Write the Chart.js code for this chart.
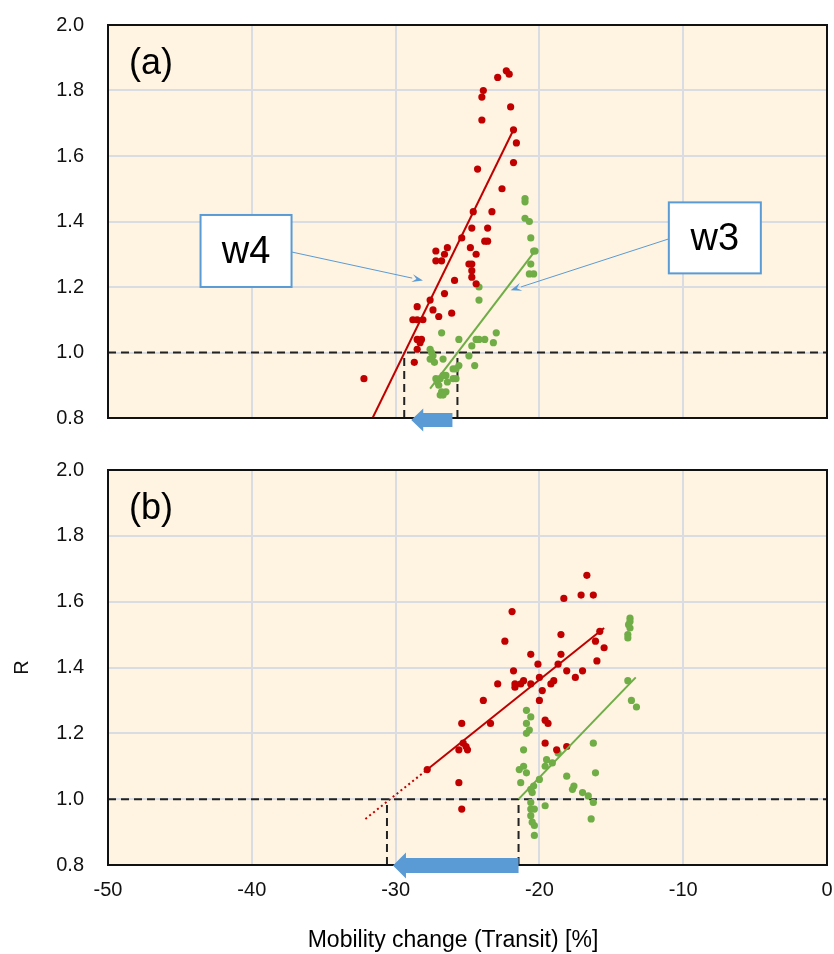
<!DOCTYPE html>
<html>
<head>
<meta charset="utf-8">
<script src="https://cdn.jsdelivr.net/npm/chart.js@4.4.0/dist/chart.umd.min.js"></script>
<style>
  body { margin: 0; background: #fff; }
  #wrap { position: relative; width: 834px; height: 954px; }
  canvas { position: absolute; left: 0; }
  #chartA { top: 0; }
  #chartB { top: 440px; }
</style>
</head>
<body>
<div id="wrap">
  <canvas id="chartA" width="834" height="440" style="width:834px;height:440px"></canvas>
  <canvas id="chartB" width="834" height="514" style="width:834px;height:514px"></canvas>
</div>
<script>
// ticks
const xTicks = [-50, -40, -30, -20, -10, 0];
const yTicks = [0.8, 1.0, 1.2, 1.4, 1.6, 1.8, 2.0];

// panel (a): 4th wave (red) and 3rd wave (green)
const w4A_x = [-22.3, -22.1, -22.9, -23.9, -24.0, -22.0, -24.0, -21.8, -21.6, -21.8, -24.3, -22.6, -24.6, -23.3, -24.7, -23.6,
  -25.4, -23.8, -23.6, -26.4, -27.2, -26.6, -24.8, -24.4, -27.2, -26.8, -24.9, -24.7, -24.7, -24.7, -25.9, -24.4, -26.6,
  -27.6, -27.4, -28.5, -27.0, -26.1, -28.8, -28.5, -28.1, -28.5, -28.2, -28.3, -28.5, -28.7, -32.2];
const w4A_R = [1.86, 1.85, 1.84, 1.80, 1.78, 1.75, 1.71, 1.68, 1.64, 1.58, 1.56, 1.50, 1.43, 1.43, 1.38, 1.38,
  1.35, 1.34, 1.34, 1.32, 1.31, 1.30, 1.32, 1.30, 1.28, 1.28, 1.27, 1.27, 1.25, 1.23, 1.22, 1.21, 1.18,
  1.16, 1.13, 1.14, 1.11, 1.12, 1.10, 1.10, 1.10, 1.04, 1.04, 1.03, 1.01, 0.97, 0.92];
const w3A_x = [-21.0, -21.0, -21.0, -20.7, -20.6, -20.4, -20.3, -20.6, -20.7, -20.4, -24.2, -24.2, -26.8, -23.0, -25.6, -24.4,
  -24.2, -23.8, -23.2, -24.7, -27.6, -27.5, -27.4, -26.7, -27.6, -27.3, -24.9, -24.5, -25.6, -25.8, -26.0, -26.5, -26.9,
  -27.2, -26.7, -26.4, -26.0, -25.8, -27.1, -27.0, -26.8, -26.5, -26.7, -26.9];
const w3A_R = [1.47, 1.46, 1.41, 1.40, 1.35, 1.31, 1.31, 1.27, 1.24, 1.24, 1.20, 1.16, 1.06, 1.06, 1.04, 1.04,
  1.04, 1.04, 1.03, 1.02, 1.01, 1.00, 0.99, 0.98, 0.98, 0.97, 0.99, 0.96, 0.96, 0.95, 0.95, 0.93, 0.92,
  0.92, 0.93, 0.91, 0.92, 0.92, 0.91, 0.90, 0.88, 0.88, 0.87, 0.87];
const fitW4A_x = [-31.6, -21.8], fitW4A_R = [0.80, 1.68];
const fitW3A_x = [-27.6, -20.3], fitW3A_R = [0.89, 1.31];
const crossA = [-29.4, -25.7];

// panel (b)
const w4B_x = [-25.4, -25.6, -25.3, -25.1, -25.0, -25.6, -25.4, -27.8, -16.7, -17.1, -16.25, -18.3, -21.9, -15.8, -18.5, -16.1,
  -22.4, -15.5, -20.6, -18.5, -20.1, -16.0, -18.7, -21.8, -18.1, -17.0, -17.5, -20.0, -22.9, -21.7, -21.7, -21.3, -21.1,
  -20.6, -19.2, -19.0, -19.8, -23.9, -20.0, -23.4, -19.6, -19.4, -19.6, -18.8, -18.1];
const w4B_R = [1.23, 1.15, 1.17, 1.16, 1.15, 1.05, 0.97, 1.09, 1.68, 1.62, 1.62, 1.61, 1.57, 1.51, 1.50, 1.48,
  1.48, 1.46, 1.44, 1.44, 1.41, 1.42, 1.41, 1.39, 1.39, 1.39, 1.37, 1.37, 1.35, 1.35, 1.34, 1.35, 1.36,
  1.35, 1.35, 1.36, 1.33, 1.30, 1.30, 1.23, 1.24, 1.23, 1.17, 1.15, 1.16];
const w3B_x = [-13.7, -13.7, -13.8, -13.7, -13.85, -13.85, -13.85, -13.6, -13.25, -20.9, -20.6, -20.9, -20.7, -20.9, -21.1,
  -16.25, -21.1, -21.4, -20.9, -19.5, -19.1, -19.6, -18.7, -16.1, -18.1, -21.3, -20.0, -20.4, -20.6, -20.5, -17.6, -17.7,
  -17.0, -16.6, -16.25, -20.6, -20.6, -20.35, -20.6, -20.5, -20.35, -20.35, -19.6, -16.4];
const w3B_R = [1.55, 1.54, 1.53, 1.52, 1.50, 1.49, 1.36, 1.30, 1.28, 1.27, 1.25, 1.23, 1.21, 1.20, 1.15,
  1.17, 1.10, 1.09, 1.08, 1.12, 1.11, 1.10, 1.14, 1.08, 1.07, 1.05, 1.06, 1.04, 1.03, 1.02, 1.04, 1.03,
  1.02, 1.01, 0.99, 0.99, 0.97, 0.97, 0.95, 0.93, 0.92, 0.89, 0.98, 0.94];
const fitW4B_x = [-27.8, -15.5], fitW4B_R = [1.09, 1.52];
const extW4B_x = [-32.1, -27.8], extW4B_R = [0.94, 1.09];
const fitW3B_x = [-21.45, -13.3], fitW3B_R = [1.00, 1.37];
const crossB = [-30.6, -21.45];

const RED = '#C00000', GREEN = '#70AD47', BLUE = '#5B9BD5';
const FONT = '"Liberation Sans", Arial, sans-serif';
Chart.defaults.font.family = FONT;
Chart.defaults.color = '#111';

function pts(xs, ys) { return xs.map((v, i) => ({ x: v, y: ys[i] })); }

function dots(xs, ys, color) {
  return { data: pts(xs, ys), backgroundColor: color, borderWidth: 0, pointRadius: 3.6, showLine: false, order: 1 };
}
function line(xs, ys, color, dash, order) {
  return { data: pts(xs, ys), borderColor: color, borderWidth: 2, borderDash: dash || [], pointRadius: 0,
    showLine: true, fill: false, order: order === undefined ? 0 : order };
}
function refLines(cross) {
  const d = [8, 5];
  return [
    line([-50, 0], [1, 1], '#222', d, 2),
    line([cross[0], cross[0]], [0.8, 1], '#222', d, 2),
    line([cross[1], cross[1]], [0.8, 1], '#222', d, 2)
  ];
}

function blockArrow(ctx, xTail, xTip, yc, body, head, headLen) {
  ctx.fillStyle = BLUE;
  ctx.beginPath();
  ctx.moveTo(xTail, yc - body / 2);
  ctx.lineTo(xTip + headLen, yc - body / 2);
  ctx.lineTo(xTip + headLen, yc - head / 2);
  ctx.lineTo(xTip, yc);
  ctx.lineTo(xTip + headLen, yc + head / 2);
  ctx.lineTo(xTip + headLen, yc + body / 2);
  ctx.lineTo(xTail, yc + body / 2);
  ctx.closePath();
  ctx.fill();
}

const annotate = {
  id: 'annotate',
  afterDatasetsDraw(chart, args, opts) {
    const { ctx, chartArea: a, scales: { x, y } } = chart;
    ctx.save();
    // plot frame
    ctx.strokeStyle = '#111';
    ctx.lineWidth = 2;
    ctx.strokeRect(a.left, a.top, a.right - a.left, a.bottom - a.top);
    // panel label
    ctx.fillStyle = '#000';
    ctx.font = '36px ' + FONT;
    ctx.textAlign = 'center';
    ctx.textBaseline = 'middle';
    ctx.fillText(opts.panel, a.left + 43, a.top + 39);
    // shift arrow between the two crossings
    blockArrow(ctx, x.getPixelForValue(opts.cross[1]) - opts.inset[1], x.getPixelForValue(opts.cross[0]) + opts.inset[0],
      a.bottom + opts.arrowDy, opts.body, opts.head, opts.headLen);
    // callouts
    (opts.callouts || []).forEach(c => {
      const cx = x.getPixelForValue(c.at[0]), cy = y.getPixelForValue(c.at[1]);
      const tx = x.getPixelForValue(c.tip[0]), ty = y.getPixelForValue(c.tip[1]);
      const sx = c.side === 'right' ? cx + c.w / 2 : cx - c.w / 2;
      const sy = cy + 1;
      ctx.strokeStyle = BLUE;
      ctx.lineWidth = 1;
      const ang = Math.atan2(ty - sy, tx - sx);
      const hl = 11, hw = 4;
      const bx = tx - hl * Math.cos(ang), by = ty - hl * Math.sin(ang);
      ctx.beginPath();
      ctx.moveTo(sx, sy);
      ctx.lineTo(bx, by);
      ctx.stroke();
      ctx.fillStyle = BLUE;
      ctx.beginPath();
      ctx.moveTo(tx, ty);
      ctx.lineTo(bx - hw * Math.sin(ang), by + hw * Math.cos(ang));
      ctx.lineTo(tx - 0.6 * hl * Math.cos(ang), ty - 0.6 * hl * Math.sin(ang));
      ctx.lineTo(bx + hw * Math.sin(ang), by - hw * Math.cos(ang));
      ctx.closePath();
      ctx.fill();
      ctx.fillStyle = '#fff';
      ctx.fillRect(cx - c.w / 2, cy - c.h / 2, c.w, c.h);
      ctx.strokeStyle = BLUE;
      ctx.lineWidth = 2;
      ctx.strokeRect(cx - c.w / 2, cy - c.h / 2, c.w, c.h);
      ctx.fillStyle = '#000';
      ctx.font = '38px ' + FONT;
      ctx.fillText(c.text, cx, cy + 2);
    });
    if (opts.xTitle) {
      ctx.font = '23px ' + FONT;
      ctx.fillStyle = '#000';
      ctx.fillText(opts.xTitle, 453, 501);
    }
    ctx.restore();
  }
};

function makeChart(id, datasets, showX, pad, annot) {
  return new Chart(document.getElementById(id), {
    type: 'scatter',
    data: { datasets: datasets },
    options: {
      responsive: false,
      animation: false,
      layout: { padding: pad },
      plugins: { legend: { display: false }, tooltip: { enabled: false }, annotate: annot },
      scales: {
        x: {
          min: -50, max: 0,
          afterBuildTicks: s => { s.ticks = xTicks.map(v => ({ value: v })); },
          afterFit: s => { s.height = showX ? 89 : 0; s.paddingLeft = 0; s.paddingRight = 0; },
          grid: { color: '#D9DCE2', lineWidth: 2, drawTicks: false },
          border: { display: false },
          ticks: { display: showX, font: { size: 20 }, color: '#111', padding: 13, callback: v => String(v) }
        },
        y: {
          min: 0.8, max: 2.0,
          afterBuildTicks: s => { s.ticks = yTicks.map(v => ({ value: v })); },
          afterFit: s => { s.width = 108; s.paddingTop = 0; s.paddingBottom = 0; },
          grid: { color: '#D9DCE2', lineWidth: 2, drawTicks: false },
          border: { display: false },
          ticks: { font: { size: 20 }, color: '#111', padding: 24, callback: v => v.toFixed(1) },
          title: { display: showX, text: 'R', font: { size: 20 }, color: '#111', padding: { top: 10, bottom: 0 } }
        }
      }
    },
    plugins: [{
      id: 'bg',
      beforeDraw(chart) {
        const { ctx, chartArea: a } = chart;
        ctx.save();
        ctx.fillStyle = '#FEF4E1';
        ctx.fillRect(a.left, a.top, a.right - a.left, a.bottom - a.top);
        ctx.restore();
      }
    }, annotate]
  });
}

makeChart('chartA', [
  line(fitW4A_x, fitW4A_R, RED),
  line(fitW3A_x, fitW3A_R, GREEN),
  dots(w4A_x, w4A_R, RED),
  dots(w3A_x, w3A_R, GREEN),
  ...refLines(crossA)
], false, { top: 25, right: 7, bottom: 22, left: 0 }, {
  panel: '(a)', cross: crossA, inset: [7, 5], arrowDy: 2, body: 14, head: 23, headLen: 12,
  callouts: [
    { text: 'w4', at: [-40.4, 1.31], w: 91, h: 72, tip: [-28.1, 1.22], side: 'right' },
    { text: 'w3', at: [-7.8, 1.35], w: 92, h: 71, tip: [-22.0, 1.19], side: 'left' }
  ]
});

makeChart('chartB', [
  line(fitW4B_x, fitW4B_R, RED),
  line(extW4B_x, extW4B_R, RED, [2, 3]),
  line(fitW3B_x, fitW3B_R, GREEN),
  dots(w4B_x, w4B_R, RED),
  dots(w3B_x, w3B_R, GREEN),
  ...refLines(crossB)
], true, { top: 30, right: 7, bottom: 0, left: 0 }, {
  panel: '(b)', cross: crossB, inset: [6, 0], arrowDy: 0.5, body: 15, head: 26, headLen: 13,
  xTitle: 'Mobility change (Transit) [%]'
});
</script>
</body>
</html>
